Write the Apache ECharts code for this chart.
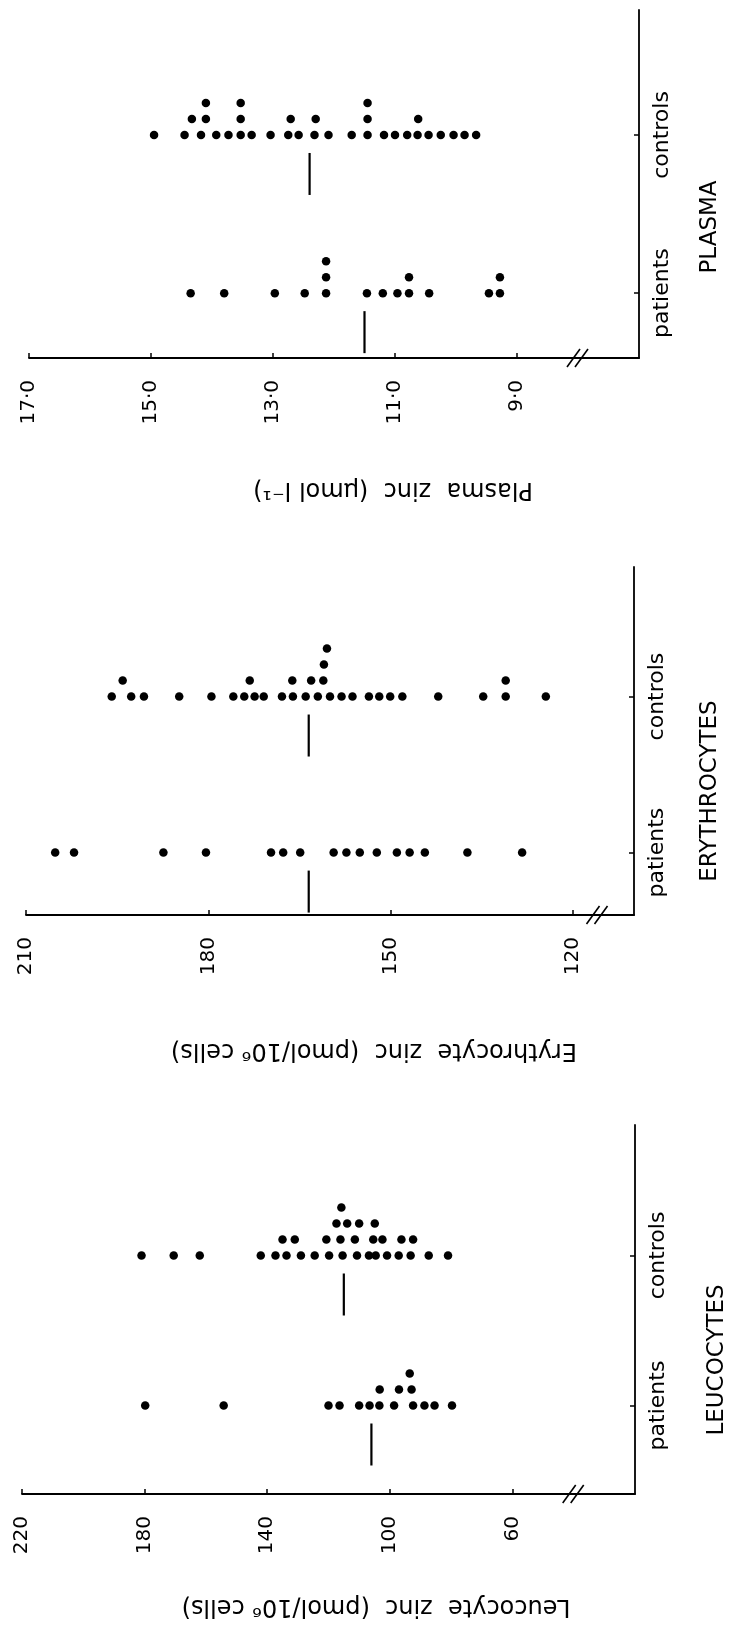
<!DOCTYPE html>
<html><head><meta charset="utf-8">
<script src="https://cdn.jsdelivr.net/npm/echarts@6/dist/echarts.min.js"></script>
<style>html,body{margin:0;padding:0;background:#fff}#c{width:736px;height:1631px}</style>
</head><body><div id="c"></div>
<script>
// ---------- data ----------
const categories = ['patients', 'controls'];
const panelTitles = ['PLASMA', 'ERYTHROCYTES', 'LEUCOCYTES'];
const axisTitles = ['Plasma  zinc  (\u00b5mol l\u207b\u00b9)', 'Erythrocyte  zinc  (pmol/10\u2076 cells)', 'Leucocyte  zinc  (pmol/10\u2076 cells)'];

const plasmaTicks = [9, 11, 13, 15, 17];
const erythroTicks = [120, 150, 180, 210];
const leucoTicks = [60, 100, 140, 180, 220];

// plasma zinc (µmol/l); levels = row of the dot in its stack
const plasmaPatients = [14.35, 13.80, 12.97, 12.48, 12.13, 12.13, 12.13, 11.46, 11.20, 10.96, 10.77, 10.77, 10.44, 9.46, 9.28, 9.28];
const plasmaPatientsLevels = [0, 0, 0, 0, 0, 1, 2, 0, 0, 0, 0, 1, 0, 0, 0, 1];
const plasmaControls = [14.95, 14.45, 14.33, 14.18, 14.10, 14.10, 13.93, 13.73, 13.53, 13.53, 13.53, 13.35, 13.04, 12.75, 12.71, 12.58, 12.32, 12.30, 12.09, 11.71, 11.45, 11.45, 11.45, 11.18, 11.00, 10.80, 10.63, 10.62, 10.45, 10.25, 10.04, 9.86, 9.67];
const plasmaControlsLevels = [0, 0, 1, 0, 1, 2, 0, 0, 0, 1, 2, 0, 0, 0, 1, 0, 0, 1, 0, 0, 0, 1, 2, 0, 0, 0, 0, 1, 0, 0, 0, 0, 0];
const plasmaMedians = [11.5, 12.4];

// erythrocyte zinc (pmol/10^6 cells)
const erythroPatients = [205.2, 202.1, 187.4, 180.4, 169.7, 167.7, 164.9, 159.4, 157.3, 155.1, 152.3, 149.0, 146.9, 144.4, 137.4, 128.4];
const erythroPatientsLevels = [0, 0, 0, 0, 0, 0, 0, 0, 0, 0, 0, 0, 0, 0, 0, 0];
const erythroControls = [195.9, 194.1, 192.7, 190.6, 184.8, 179.5, 175.9, 174.1, 173.2, 172.4, 170.9, 167.9, 166.2, 166.1, 164.0, 163.1, 162.0, 161.1, 161.0, 160.5, 160.0, 158.1, 156.3, 153.6, 151.9, 150.1, 148.1, 142.2, 134.8, 131.1, 131.1, 124.5];
const erythroControlsLevels = [0, 1, 0, 0, 0, 0, 0, 0, 1, 0, 0, 0, 1, 0, 0, 1, 0, 1, 2, 3, 0, 0, 0, 0, 0, 0, 0, 0, 0, 0, 1, 0];
const erythroMedians = [163.5, 163.5];

// leucocyte zinc (pmol/10^6 cells)
const leucoPatients = [179.8, 154.2, 120.0, 116.4, 110.0, 106.6, 103.4, 103.3, 98.6, 97.0, 93.5, 92.9, 92.4, 88.7, 85.4, 79.7];
const leucoPatientsLevels = [0, 0, 0, 0, 0, 0, 0, 1, 0, 1, 2, 1, 0, 0, 0, 0];
const leucoControls = [181, 170.5, 162, 142.1, 137.3, 135, 133.7, 131, 129, 124.5, 120.7, 119.8, 117.4, 116.1, 115.8, 115.4, 113.9, 111.4, 110.7, 110, 106.8, 105.4, 104.9, 104.6, 102.4, 100.9, 97.1, 96.2, 93.2, 92.4, 87.3, 81];
const leucoControlsLevels = [0, 0, 0, 0, 0, 1, 0, 1, 0, 0, 1, 0, 2, 1, 3, 0, 2, 1, 0, 2, 0, 1, 2, 0, 1, 0, 0, 1, 0, 1, 0, 0];
const leucoMedians = [106, 115];

const axisBreaks = [8.0, 116, 40];

// ---------- layout ----------
const FONT = '"DejaVu Sans", sans-serif';
const panels = [
  { grid: { left: 29, top: 10, width: 610, height: 348 }, xMin: 7, xMax: 17, ticks: plasmaTicks,
    fmt: v => v.toFixed(1).replace('.', '\u00b7'), yMin: 0.59, yMax: 2.79,
    groups: [[plasmaPatients, plasmaPatientsLevels], [plasmaControls, plasmaControlsLevels]], medians: plasmaMedians,
    title: [710, 227], axisTitle: [393, 489] },
  { grid: { left: 26, top: 567, width: 608, height: 348 }, xMin: 110, xMax: 210, ticks: erythroTicks,
    fmt: v => String(v), yMin: 0.60, yMax: 2.83,
    groups: [[erythroPatients, erythroPatientsLevels], [erythroControls, erythroControlsLevels]], medians: erythroMedians,
    title: [710, 791], axisTitle: [374, 1050] },
  { grid: { left: 22, top: 1125, width: 613, height: 369 }, xMin: 20, xMax: 220, ticks: leucoTicks,
    fmt: v => String(v), yMin: 0.41, yMax: 2.87,
    groups: [[leucoPatients, leucoPatientsLevels], [leucoControls, leucoControlsLevels]], medians: leucoMedians,
    title: [717, 1360], axisTitle: [376, 1606] }
];

const ROW = 16;
const grids = [], xAxes = [], yAxes = [], series = [], graphics = [];
panels.forEach((p, i) => {
  grids.push(Object.assign({ containLabel: false }, p.grid));
  xAxes.push({
    gridIndex: i, type: 'value', min: p.xMin, max: p.xMax, inverse: true, position: 'bottom',
    axisLine: { show: true, onZero: false, lineStyle: { color: '#000', width: 1.8 } },
    axisTick: { show: true, inside: true, length: 5, customValues: p.ticks, lineStyle: { color: '#000', width: 1.5 } },
    axisLabel: { customValues: p.ticks, formatter: p.fmt, rotate: 90, margin: 22, align: 'right', verticalAlign: 'middle',
      color: '#000', fontSize: 20, fontFamily: FONT },
    splitLine: { show: false }
  });
  yAxes.push({
    gridIndex: i, type: 'value', min: p.yMin, max: p.yMax, position: 'right',
    axisLine: { show: true, onZero: false, lineStyle: { color: '#000', width: 1.8 } },
    axisTick: { show: true, inside: true, length: 5, customValues: [1, 2], lineStyle: { color: '#000', width: 1.5 } },
    axisLabel: { customValues: [1, 2], formatter: v => categories[Math.round(v) - 1], rotate: 90, margin: 12,
      align: 'center', verticalAlign: 'top', color: '#000', fontSize: 22, fontFamily: FONT },
    splitLine: { show: false }
  });
  p.groups.forEach((g, c) => {
    series.push({
      type: 'scatter', xAxisIndex: i, yAxisIndex: i, symbol: 'circle', symbolSize: 8.5,
      itemStyle: { color: '#000', opacity: 1 }, silent: true,
      data: g[0].map((v, k) => ({ value: [v, c + 1], symbolOffset: [0, -g[1][k] * ROW] }))
    });
  });
  series.push({
    type: 'custom', xAxisIndex: i, yAxisIndex: i, silent: true,
    data: p.medians.map((m, c) => [m, c + 1]),
    renderItem: (params, api) => {
      const pt = api.coord([api.value(0), api.value(1)]);
      return { type: 'line', shape: { x1: pt[0], y1: pt[1] + 18, x2: pt[0], y2: pt[1] + 60 },
        style: { stroke: '#000', lineWidth: 2.2 } };
    }
  });
  series.push({
    type: 'custom', xAxisIndex: i, yAxisIndex: i, silent: true, clip: false,
    data: [[axisBreaks[i], p.yMin]],
    renderItem: (params, api) => {
      const pt = api.coord([api.value(0), api.value(1)]);
      const mk = d => ({ type: 'line', shape: { x1: pt[0] - 7 + d, y1: pt[1] + 9, x2: pt[0] + 6 + d, y2: pt[1] - 9 },
        style: { stroke: '#000', lineWidth: 1.6 } });
      return { type: 'group', children: [mk(-4), mk(4)] };
    }
  });
  graphics.push({ type: 'text', x: p.title[0], y: p.title[1], rotation: Math.PI / 2,
    style: { text: panelTitles[i], fill: '#000', font: '23px ' + FONT, align: 'center', verticalAlign: 'middle' } });
  graphics.push({ type: 'text', x: p.axisTitle[0], y: p.axisTitle[1], rotation: Math.PI,
    style: { text: axisTitles[i], fill: '#000', font: '24px ' + FONT, align: 'center', verticalAlign: 'middle' } });
});

const chart = echarts.init(document.getElementById('c'), null, { renderer: 'canvas' });
chart.setOption({
  backgroundColor: '#fff', animation: false,
  grid: grids, xAxis: xAxes, yAxis: yAxes, series: series, graphic: graphics
});
</script></body></html>
